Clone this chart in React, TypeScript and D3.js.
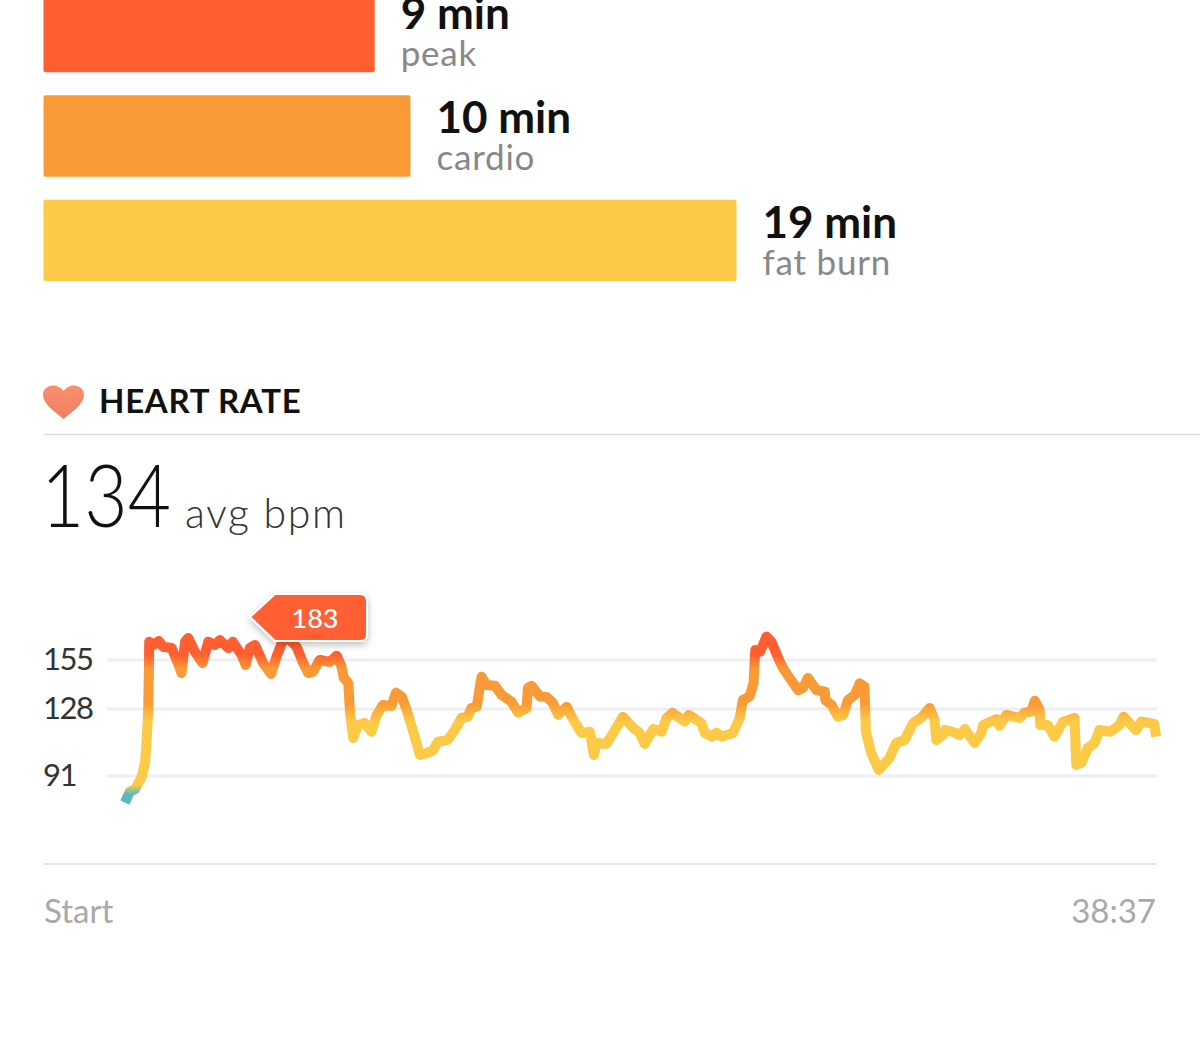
import React from 'react';
import * as d3 from 'd3';

// time in zones (minutes, labels as printed)
const zoneNames = ['peak', 'cardio', 'fat burn'];
const zoneMinutes = [9.08, 10.06, 19];
const zoneLabels = ['9 min', '10 min', '19 min'];
const zoneColors = ['#FF5E30', '#F99A36', '#FDCA47'];

const bpmTicks = [155, 128, 91];
const timeLabels = ['Start', '38:37'];
const avgBpm = '134';
const maxBpm = '183';

// seconds since start
const seconds = [
  2, 13, 25, 40, 47, 51, 54, 56, 56.5, 66, 78, 88, 107, 118, 129, 137, 144, 159, 176, 189,
  204, 215, 234, 244, 264, 273, 282, 294, 312, 330, 342, 354, 363, 372, 387, 402, 413, 424, 439, 462,
  477, 488, 493, 503, 507, 514, 525, 540, 555, 567, 581, 600, 610, 623, 634, 652, 664, 679, 693, 704,
  726, 742, 757, 771, 779, 791, 802, 813, 832, 847, 869, 884, 903, 906, 914, 933, 948, 962, 974, 993,
  1004, 1026, 1045, 1054, 1060, 1082, 1097, 1119, 1142, 1157, 1168, 1187, 1206, 1217, 1230, 1258, 1267, 1295, 1303, 1318,
  1329, 1340, 1366, 1381, 1388, 1403, 1412, 1416, 1427, 1441, 1452, 1471, 1478, 1493, 1512, 1523, 1534, 1553, 1572, 1573,
  1587, 1601, 1613, 1624, 1639, 1650, 1661, 1664, 1676, 1693, 1717, 1732, 1751, 1770, 1788, 1807, 1818, 1822, 1837, 1841,
  1859, 1874, 1886, 1908, 1923, 1927, 1957, 1964, 1979, 2009, 2020, 2035, 2043, 2054, 2055, 2072, 2087, 2106, 2132, 2136,
  2147, 2162, 2177, 2188, 2211, 2233, 2242, 2270, 2282, 2311, 2315,
];

const bpm = [
  76.3, 82.3, 83.8, 90.6, 98.2, 110.9, 125.8, 151.1, 165.1, 163.3, 165.5, 162.3, 161.6, 155, 147.8, 165.1, 167.1, 159.6, 153.3, 165.1,
  163.3, 166, 161.6, 165.1, 157.8, 152.2, 161.6, 163.3, 153.3, 147.3, 156.8, 164.4, 167.1, 166, 162.3, 153.3, 147.8, 148.5, 155, 153.9,
  157.4, 151.3, 145.1, 142.3, 125.8, 112, 119.1, 120.2, 115.4, 124.7, 130.2, 129.6, 137, 134.8, 127.4, 112.7, 102.6, 103.7, 105, 109.9,
  110.9, 116.4, 123, 123.7, 128.5, 129.2, 145.8, 141.2, 140.8, 135.7, 132, 125.9, 128.5, 139.6, 140.7, 134.8, 134.6, 131.3, 124.7, 129.1,
  123.7, 114.7, 115.4, 102.6, 109.2, 108.7, 114.7, 123.6, 117.5, 114.7, 108.7, 116.9, 115.4, 123, 125.8, 121, 124.7, 120.2, 114.7, 112.7,
  114.9, 112.7, 114.7, 123, 132.9, 134.8, 142.3, 160.5, 159.6, 167.9, 165.1, 154.1, 150.6, 145.1, 138.4, 139.6, 145.1, 138.4, 137.5, 132.9,
  130.2, 123.7, 124.7, 132.9, 135.7, 142.1, 140.3, 115.4, 103.7, 94.3, 100.9, 109.2, 110.9, 120.2, 123, 128.5, 121.9, 110.9, 113.6, 116.4,
  115.4, 113.6, 116.9, 109.2, 114.7, 119.1, 122.4, 118.6, 124.7, 123, 125.9, 126.5, 132.5, 127.4, 119.1, 119.1, 112.7, 120.8, 123, 97.1,
  98.2, 106.4, 109.2, 116.4, 115.4, 119.1, 123.7, 116.4, 121, 119.7, 112.7,
];

// vertical colour zones of the trace: bpm stop -> colour
const gradientBpm = [158, 150, 131, 121, 86, 81];
const gradientColors = ['#FF5E30', '#F99A36', '#F99A36', '#FDCA47', '#FDCA47', '#5DB9BE'];

const sans = 'Lato, "Open Sans", sans-serif';

const App: React.FC = () => {
  const x = d3.scaleLinear().domain([0, 2317]).range([124, 1157]);
  const y = d3.scaleLinear().domain([91, 155]).range([776, 660]);
  const barX = d3.scaleLinear().domain([0, 19]).range([43.5, 736.5]);
  const barY = d3.scaleBand<string>().domain(zoneNames).range([-9, 281]).paddingInner(0.22).paddingOuter(0);

  const points = seconds.map((s, i) => [s, bpm[i]] as [number, number]);
  const line = d3.line<[number, number]>().x(d => x(d[0])).y(d => y(d[1]));

  const gradTop = y(gradientBpm[0]);
  const gradBottom = y(gradientBpm[gradientBpm.length - 1]);

  return (
    <svg
      width={1200}
      height={1047}
      style={{ position: 'absolute', left: 0, top: 0, display: 'block', background: '#fff', fontFamily: sans }}
    >
      <defs>
        <linearGradient id="hr" gradientUnits="userSpaceOnUse" x1={0} x2={0} y1={gradTop} y2={gradBottom}>
          {gradientBpm.map((b, i) => (
            <stop key={i} offset={(y(b) - gradTop) / (gradBottom - gradTop)} stopColor={gradientColors[i]} />
          ))}
        </linearGradient>
        <linearGradient id="heart" x1={0} x2={0} y1={0} y2={1}>
          <stop offset={0} stopColor="#FA8F6E" />
          <stop offset={1} stopColor="#EE7F60" />
        </linearGradient>
        <filter id="tagShadow" x="-20%" y="-20%" width="140%" height="150%">
          <feDropShadow dx={0} dy={3} stdDeviation={3.5} floodColor="#000" floodOpacity={0.25} />
        </filter>
      </defs>

      {/* zone bars */}
      {zoneNames.map((name, i) => {
        const top = barY(name) as number;
        const end = barX(zoneMinutes[i]);
        return (
          <g key={name}>
            <rect
              x={barX(0)}
              y={top}
              width={end - barX(0)}
              height={barY.bandwidth()}
              rx={2}
              fill={zoneColors[i]}
            />
            <text x={end + 26} y={top + 38} fontSize={44} fontWeight={700} fill="#111">
              {zoneLabels[i]}
            </text>
            <text x={end + 26} y={top + 75} fontSize={35} letterSpacing={0.8} fill="#888">
              {name}
            </text>
          </g>
        );
      })}

      {/* header */}
      <path
        d="M63.5 419 C55 412 43 404 43 395 C43 389 48 385.5 53 385.5 C58 385.5 61.5 388 63.5 391 C65.5 388 69 385.5 74 385.5 C79 385.5 84 389 84 395 C84 404 72 412 63.5 419 Z"
        fill="url(#heart)"
      />
      <text x={99} y={413} fontSize={33} fontWeight={700} letterSpacing={0.7} fill="#111">
        HEART RATE
      </text>
      <line x1={44} x2={1200} y1={434.5} y2={434.5} stroke="#DCDCDC" strokeWidth={1.5} />

      <text x={41} y={527} fontSize={87} fontWeight={300} textLength={130} lengthAdjust="spacingAndGlyphs" fill="#111">
        {avgBpm}
      </text>
      <text x={185} y={528} fontSize={41} fontWeight={300} letterSpacing={1.7} fill="#333">
        avg bpm
      </text>

      {/* grid and ticks */}
      {bpmTicks.map(t => (
        <g key={t}>
          <line x1={107} x2={1157} y1={y(t)} y2={y(t)} stroke="#EEEEF4" strokeWidth={3} />
          <text x={43} y={y(t) + 10} fontSize={31} letterSpacing={-1.5} fill="#333">
            {t}
          </text>
        </g>
      ))}

      <path
        d={line(points) as string}
        fill="none"
        stroke="url(#hr)"
        strokeWidth={10}
        strokeLinejoin="round"
        strokeLinecap="butt"
      />

      {/* peak tag */}
      <g>
        <path
          d="M250 617 L275 594 L360 594 Q367 594 367 601 L367 634 Q367 641 360 641 L275 641 Z"
          fill="#FF5E30"
          stroke="#fff"
          strokeWidth={2}
          strokeLinejoin="round"
          filter="url(#tagShadow)"
        />
        <text x={315} y={628} fontSize={27} fontWeight={500} fill="#fff" textAnchor="middle">
          {maxBpm}
        </text>
      </g>

      {/* time axis */}
      <line x1={44} x2={1157} y1={864} y2={864} stroke="#DCDCDC" strokeWidth={1.5} />
      <text x={44} y={923} fontSize={33} fill="#A9A9A9">
        {timeLabels[0]}
      </text>
      <text x={1156} y={923} fontSize={33} fill="#A9A9A9" textAnchor="end">
        {timeLabels[1]}
      </text>
    </svg>
  );
};

export default App;
